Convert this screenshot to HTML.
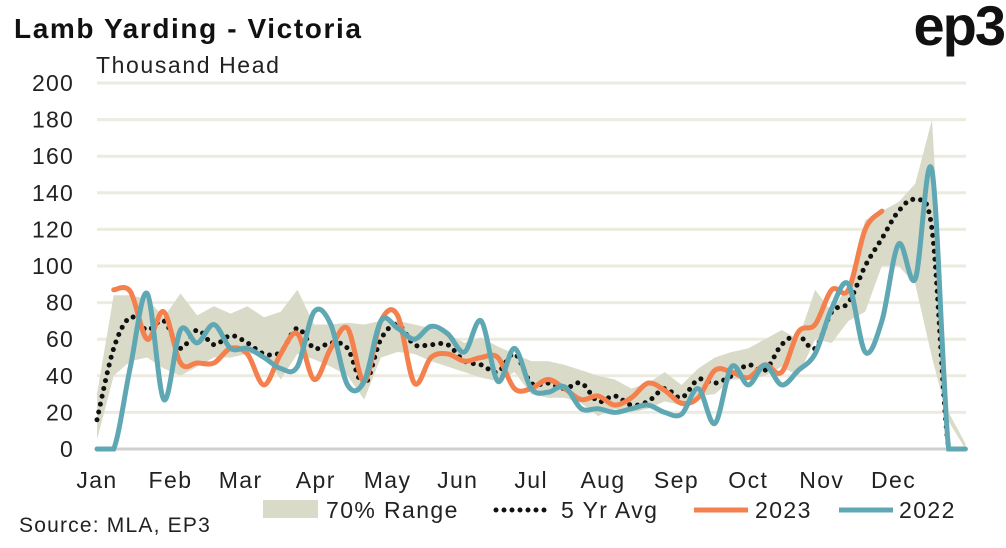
<!DOCTYPE html>
<html><head><meta charset="utf-8"><style>
body{margin:0;background:#fff;font-family:"Liberation Sans",sans-serif;}
svg text{font-family:"Liberation Sans",sans-serif;}
</style></head><body>
<svg id="c" width="1006" height="543">
<text x="14" y="38" font-size="28" font-weight="bold" fill="#111" letter-spacing="1.6">Lamb Yarding - Victoria</text>
<text x="1004" y="45" font-size="56" font-weight="bold" fill="#111" text-anchor="end" letter-spacing="-2">ep3</text>
<text x="96" y="73" font-size="23" fill="#222" letter-spacing="1.6">Thousand Head</text>
<g id="grid"></g><g id="marks"></g><g id="xl"></g>
<g font-size="23" letter-spacing="1.4">
<rect x="263" y="500" width="55" height="18" fill="#d9dbc8"/>
<text x="326" y="518" fill="#222">70% Range</text>
<line x1="496" y1="510" x2="550" y2="510" stroke="#111" stroke-width="5" stroke-linecap="round" stroke-dasharray="0 8"/>
<text x="561" y="518" fill="#222">5 Yr Avg</text>
<line x1="694" y1="510" x2="748" y2="510" stroke="#f4804e" stroke-width="5"/>
<text x="755" y="518" fill="#222">2023</text>
<line x1="839" y1="510" x2="893" y2="510" stroke="#5fa8b3" stroke-width="5"/>
<text x="899" y="518" fill="#222">2022</text>
</g>
<text x="19" y="532" font-size="21" fill="#222" letter-spacing="1.2">Source: MLA, EP3</text>
</svg>
<script>
const yTicks=[0,20,40,60,80,100,120,140,160,180,200];
const months=["Jan","Feb","Mar","Apr","May","Jun","Jul","Aug","Sep","Oct","Nov","Dec"];
const monthWeeks=[0,4.4,8.6,13.1,17.4,21.6,26.0,30.3,34.7,39.0,43.4,47.7];
const rangeLow=[5,40,48,50,44,40,45,50,50,52,52,38,52,49,45,40,27,50,53,52,48,45,42,39,37,42,30,28,28,25,18,22,20,22,26,24,29,30,38,38,40,45,40,60,58,70,75,100,100,90,50,15,0];
const rangeHigh=[30,84,84,82,72,85,73,78,74,78,72,75,87,68,68,69,68,70,70,68,66,63,58,61,56,52,48,48,46,43,40,38,33,36,42,35,44,50,53,55,60,65,60,87,75,90,125,130,135,145,180,20,3];
const avg5=[16,55,72,65,70,55,65,57,62,58,52,53,66,55,58,55,35,60,68,57,57,57,48,46,42,52,36,36,33,36,26,29,24,26,33,28,38,36,40,46,43,57,62,55,75,80,100,115,130,136,120,0,0];
const y2023=[null,87,86,60,75,47,47,47,55,52,35,52,63,38,55,66,37,70,73,36,50,52,48,50,50,33,33,38,33,27,29,24,28,36,32,25,28,43,42,39,46,42,64,68,87,87,120,130];
const y2022=[0,0,45,85,27,65,58,68,55,55,50,44,45,75,68,35,37,70,66,60,67,63,53,70,37,55,33,31,34,22,22,20,22,24,20,19,33,14,45,35,46,35,43,52,77,90,53,70,112,93,152,0,0];
const X=w=>97+w*16.7, Y=v=>449-v*1.83;
const NS="http://www.w3.org/2000/svg";
function mk(t,a,p){const e=document.createElementNS(NS,t);for(const k in a)e.setAttribute(k,a[k]);p.appendChild(e);return e;}
const grid=document.getElementById('grid'),marks=document.getElementById('marks'),xl=document.getElementById('xl');
yTicks.forEach(v=>{
 const l=mk('line',{x1:97,x2:966,y1:Y(v),y2:Y(v),stroke:v===0?'#d0d0d0':'#ebebe0','stroke-width':3},grid);
 
 
 const t=mk('text',{x:74,y:Y(v)+8,'font-size':23,fill:'#222','text-anchor':'end','letter-spacing':1.2},grid);t.textContent=v;
 
 
});
months.forEach((m,i)=>{
 const t=mk('text',{x:X(monthWeeks[i]),y:488,'font-size':23,fill:'#222','text-anchor':'middle','letter-spacing':1.4},xl);t.textContent=m;
 
 
});
let d='M'+rangeHigh.map((v,i)=>X(i)+','+Y(v)).join('L');
for(let i=rangeLow.length-1;i>=0;i--)d+='L'+X(i)+','+Y(rangeLow[i]);
const band=mk('path',{d:d+'Z',fill:'#d9dbc8'},marks);


const yMax=Y(0);
function spline(pts){let s='M'+pts[0][0]+','+pts[0][1];
 for(let i=0;i<pts.length-1;i++){const p0=pts[i-1]||pts[i],p1=pts[i],p2=pts[i+1],p3=pts[i+2]||p2;
  const c1y=Math.min(yMax,p1[1]+(p2[1]-p0[1])/6),c2y=Math.min(yMax,p2[1]-(p3[1]-p1[1])/6);
  s+='C'+(p1[0]+(p2[0]-p0[0])/6)+','+c1y+' '+(p2[0]-(p3[0]-p1[0])/6)+','+c2y+' '+p2[0]+','+p2[1];}
 return s;}
function pts(a){const r=[];a.forEach((v,i)=>{if(v!==null)r.push([X(i),Y(v)]);});return r;}
const a=mk('path',{d:spline(pts(avg5)),fill:'none',stroke:'#111','stroke-width':5,'stroke-linecap':'round','stroke-dasharray':'0 8'},marks);


const o=mk('path',{d:spline(pts(y2023)),fill:'none',stroke:'#f4804e','stroke-width':5,'stroke-linecap':'round'},marks);


const t2=mk('path',{d:spline(pts(y2022)),fill:'none',stroke:'#5fa8b3','stroke-width':5,'stroke-linecap':'round'},marks);


</script>
</body></html>
